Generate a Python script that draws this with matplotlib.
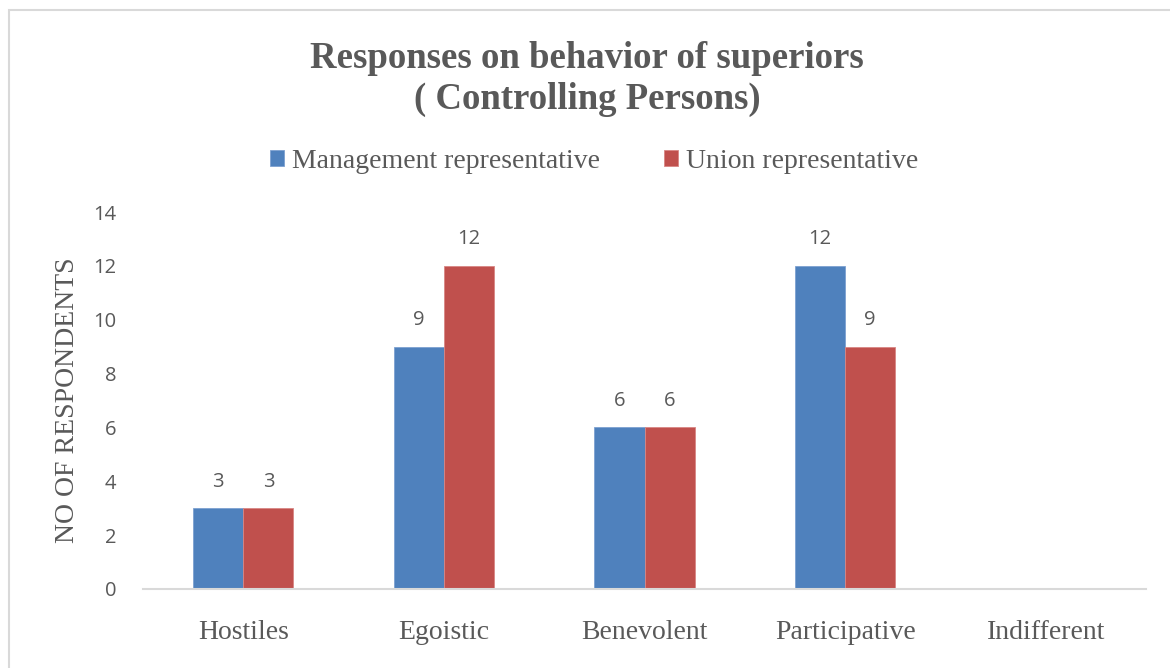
import matplotlib
matplotlib.use("Agg")
import matplotlib.pyplot as plt
import numpy as np
from matplotlib.patches import Rectangle

categories = ["Hostiles", "Egoistic", "Benevolent", "Participative", "Indifferent"]
management = [3, 9, 6, 12, 0]
union = [3, 12, 6, 9, 0]
series_names = ["Management representative", "Union representative"]
y_ticks = [0, 2, 4, 6, 8, 10, 12, 14]

BLUE = "#4F81BD"
RED = "#C0504D"
TEXT = "#595959"
SERIF = "Liberation Serif"
SANS = "Open Sans"

fig = plt.figure(figsize=(11.7, 6.68), dpi=100)
ax = fig.add_axes([143 / 1170, 1 - 589 / 668, (1146 - 143) / 1170, (589 - 212) / 668])

# chart area outline (runs off the right and bottom edges)
fig.patches.append(Rectangle((9 / 1170, -0.1), 1.2, 1 - 10 / 668 + 0.1,
                             transform=fig.transFigure, fill=False,
                             edgecolor="#D9D9D9", linewidth=1.5))

x = np.arange(len(categories))
w = 0.25
b1 = ax.bar(x - w / 2, management, width=w, color=BLUE, edgecolor="#7DA1D0",
            linewidth=0.6, label=series_names[0])
b2 = ax.bar(x + w / 2, union, width=w, color=RED, edgecolor="#D88684",
            linewidth=0.6, label=series_names[1])

for bars, vals in ((b1, management), (b2, union)):
    for rect, v in zip(bars, vals):
        if v == 0:
            continue
        ax.annotate(str(v), (rect.get_x() + rect.get_width() / 2, v),
                    xytext=(0, 19), textcoords="offset points", ha="center",
                    va="center", fontsize=14.5, color=TEXT, family=SANS)

ax.set_xlim(-0.5, len(categories) - 0.5)
ax.set_ylim(0, 14)
ax.set_yticks(y_ticks)
ax.set_xticks(x)
ax.set_xticklabels(categories, family=SERIF, fontsize=20, color=TEXT)
for lbl in ax.get_yticklabels():
    lbl.set_family(SANS)
    lbl.set_fontsize(14.5)
    lbl.set_color(TEXT)
ax.tick_params(axis="both", length=0)
ax.tick_params(axis="x", pad=22)
ax.tick_params(axis="y", pad=19)
for side in ("top", "right", "left"):
    ax.spines[side].set_visible(False)
ax.spines["bottom"].set_color("#D9D9D9")
ax.spines["bottom"].set_linewidth(1.5)

ax.set_ylabel("NO OF RESPONDENTS", family=SERIF, fontsize=20, color=TEXT, labelpad=10)

fig.text(0.502, 1 - 79 / 668, "Responses on behavior of superiors\n( Controlling Persons)",
         ha="center", va="center", family=SERIF, fontsize=26.5, fontweight="bold",
         color=TEXT, linespacing=1.2)

fig.legend(handles=[b1, b2], loc="center", bbox_to_anchor=(594 / 1170, 1 - 161 / 668),
           ncol=2, frameon=False, prop={"family": SERIF, "size": 20},
           labelcolor=TEXT, handlelength=0.5, handleheight=0.5,
           handletextpad=0.3, columnspacing=2.3)

fig.savefig("out.png", dpi=100)
